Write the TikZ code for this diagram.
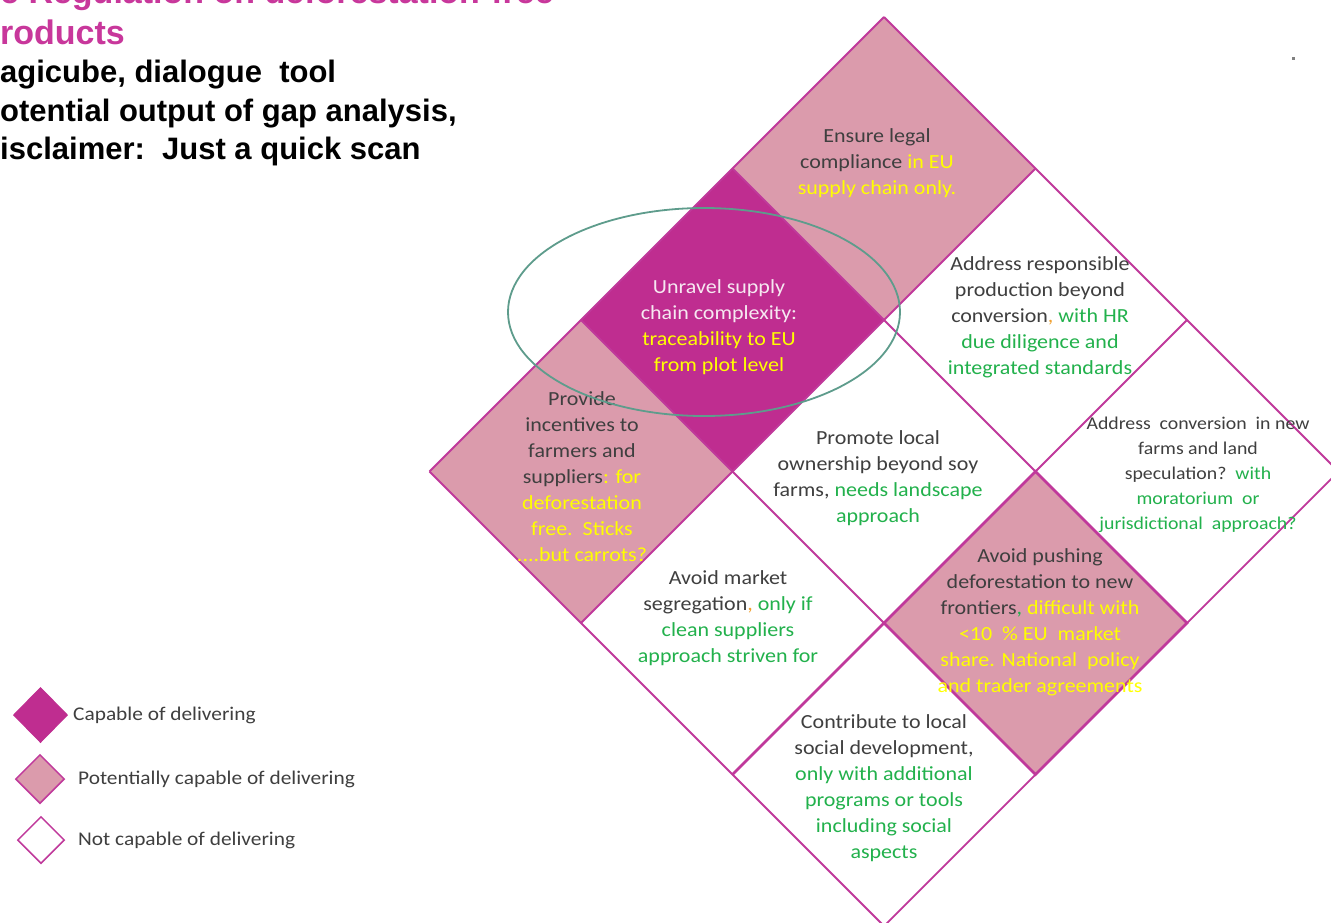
\documentclass[tikz,border=0pt]{standalone}
\usepackage{fontspec}
\setmainfont{Carlito}
\newfontfamily\calfont[FakeStretch=1.1]{Carlito}
\newfontfamily\titlefont{Liberation Sans}
\usetikzlibrary{shapes.geometric}
\definecolor{darkfill}{HTML}{BF2D90}
\definecolor{pinkfill}{HTML}{DB9BAC}
\definecolor{gridc}{HTML}{C0399B}
\definecolor{ellc}{HTML}{5E9C8C}
\definecolor{txtc}{HTML}{3F3F3F}
\definecolor{cylw}{RGB}{255,255,0}
\definecolor{cgrn}{HTML}{22B14C}
\definecolor{corn}{HTML}{F0A030}
\definecolor{cwht}{HTML}{F6E8F1}
\definecolor{titlec}{HTML}{C8379B}
\newcommand\ylw[1]{\textcolor{cylw}{#1}}
\newcommand\grn[1]{\textcolor{cgrn}{#1}}
\newcommand\orn[1]{\textcolor{corn}{#1}}
\begin{document}
\begin{tikzpicture}[x=1pt,y=-1pt,
  gridline/.style={draw=gridc,line width=1.8pt},
  celltext/.style={align=center,text=txtc,inner sep=0pt,font=\calfont\fontsize{20}{26}\selectfont},
  smalltext/.style={align=center,text=txtc,inner sep=0pt,font=\calfont\fontsize{18}{25}\selectfont},
  legtext/.style={anchor=west,text=txtc,inner sep=0pt,font=\calfont\fontsize{19.4}{23}\selectfont},
  titleline/.style={anchor=base west,inner sep=0pt,font=\titlefont\bfseries\fontsize{34}{40}\selectfont,text=titlec},
  subline/.style={anchor=base west,inner sep=0pt,font=\titlefont\bfseries\fontsize{31}{39}\selectfont,text=black},
  legdia/.style={diamond,aspect=1,inner sep=0pt}
]
\useasboundingbox (0,0) rectangle (1331,922);
\clip (0,0) rectangle (1331,922);
\fill[white] (0,0) rectangle (1331,922);

% grid vertices
\foreach \i in {0,...,3}{\foreach \j in {0,...,3}{
  \coordinate (v\i\j) at ({884+(\j-\i)*151.5},{17+(\i+\j)*151.5});
}}

% cell fills
\fill[pinkfill] (v00) -- (v01) -- (v11) -- (v10) -- cycle;
\fill[darkfill] (v10) -- (v11) -- (v21) -- (v20) -- cycle;
\fill[pinkfill] (v20) -- (v21) -- (v31) -- (v30) -- cycle;
\fill[pinkfill] (v12) -- (v13) -- (v23) -- (v22) -- cycle;

% grid lines
\foreach \k in {0,...,3}{
  \draw[gridline] (v\k0) -- (v\k3);
  \draw[gridline] (v0\k) -- (v3\k);
}
\draw[gridline,line width=2.6pt,line join=miter] (v12) -- (v13) -- (v23) -- (v22) -- cycle;
\draw[gridline,line width=2.6pt] (v32) -- (v22);

% cell texts
\node[celltext] (ensure) at (877,163) {Ensure legal\\compliance \ylw{in EU}\\\ylw{supply chain only.}};
\node[celltext,text=cwht] (unravel) at (719,327) {Unravel supply\\chain complexity:\\\ylw{traceability to EU}\\\ylw{from plot level}};
\node[celltext] (addresp) at (1040,317) {Address responsible\\production beyond\\conversion\orn{,} \grn{with HR}\\\grn{due diligence and}\\\grn{integrated standards}};
\node[celltext] (provide) at (582,477) {Provide\\incentives to\\farmers and\\suppliers\ylw{: for}\\\ylw{deforestation}\\\ylw{free.\ \ Sticks}\\\ylw{....but carrots?}};
\node[celltext] (promote) at (878,478) {Promote local\\ownership beyond soy\\farms, \grn{needs landscape}\\\grn{approach}};
\node[smalltext] (addconv) at (1198,475) {Address\ \ conversion\ \ in new\\farms and land\\speculation?\ \ \grn{with}\\\grn{moratorium\ \ or}\\\grn{jurisdictional\ \ approach?}};
\node[celltext] (avoidmkt) at (728,618) {Avoid market\\segregation\orn{,} \grn{only if}\\\grn{clean suppliers}\\\grn{approach striven for}};
\node[celltext] (avoidpush) at (1040,622) {Avoid pushing\\deforestation to new\\frontiers\grn{,} \ylw{difficult with}\\\ylw{<10\ \ \% EU\ \ market}\\\ylw{share. National\ \ policy}\\\ylw{and trader agreements}};
\node[celltext] (contrib) at (884,788) {Contribute to local\\social development,\\\grn{only with additional}\\\grn{programs or tools}\\\grn{including social}\\\grn{aspects}};

% ellipse
\draw[ellc,line width=1.8pt] (704,312) ellipse [x radius=196pt, y radius=104pt];

% title
\node[titleline] (title1) at (0,3) {e Regulation on deforestation-free};
\node[titleline] (title2) at (0,44) {roducts};
\node[subline] (sub1) at (0,82) {agicube, dialogue\ \ tool};
\node[subline] (sub2) at (0,121) {otential\ output of gap analysis,};
\node[subline] (sub3) at (0,159) {isclaimer:\ \ Just a quick scan};

% small dot
\fill[gray] (1292,57) rectangle (1295,60);

% legend
\node[legdia,fill=darkfill,draw=darkfill,line width=1pt,minimum width=54pt,minimum height=55pt] (legcap) at (40.5,715) {};
\node[legdia,fill=pinkfill,draw=gridc,line width=1.5pt,minimum width=49pt,minimum height=49pt] (legpot) at (40,779) {};
\node[legdia,fill=white,draw=gridc,line width=1.5pt,minimum width=47pt,minimum height=47pt] (legnot) at (41,840) {};
\node[legtext] (legcapt) at (73,715) {Capable of delivering};
\node[legtext] (legpott) at (78,779) {Potentially capable of delivering};
\node[legtext] (legnott) at (78,840) {Not\ capable of delivering};
\end{tikzpicture}
\end{document}
